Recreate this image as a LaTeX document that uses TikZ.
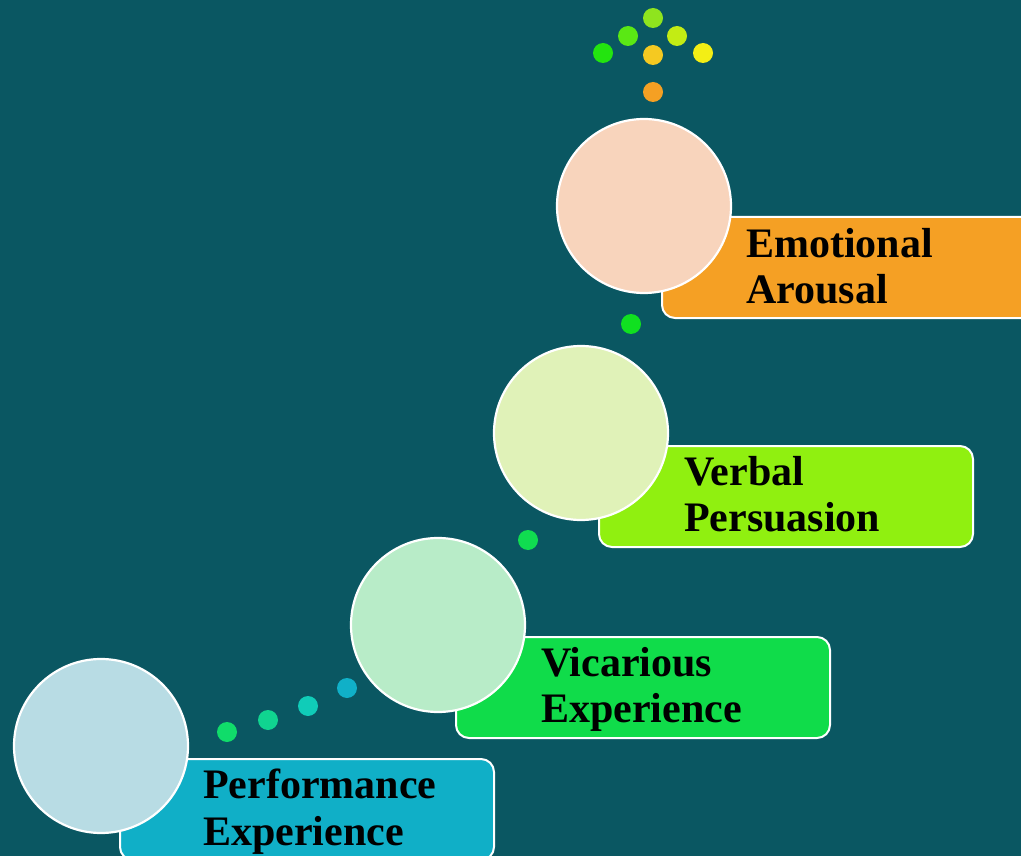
\documentclass[tikz,border=0pt]{standalone}
\usepackage{fontspec}
\setmainfont{Liberation Serif}
\definecolor{bgc}{HTML}{0A5762}
\definecolor{cPerf}{HTML}{B8DCE4}
\definecolor{cVic}{HTML}{B8ECC8}
\definecolor{cVerb}{HTML}{E0F2B8}
\definecolor{cEmo}{HTML}{F8D4BC}
\definecolor{rPerf}{HTML}{10AFC7}
\definecolor{rVic}{HTML}{10DC4A}
\definecolor{rVerb}{HTML}{90F010}
\definecolor{rEmo}{HTML}{F5A024}
\definecolor{d1}{HTML}{8FE41E}
\definecolor{d2}{HTML}{5AE814}
\definecolor{d3}{HTML}{23E40F}
\definecolor{d4}{HTML}{C3EC14}
\definecolor{d5}{HTML}{F3EE15}
\definecolor{d6}{HTML}{F5C921}
\definecolor{d7}{HTML}{F5A023}
\definecolor{d8}{HTML}{10E020}
\definecolor{d9}{HTML}{10DC50}
\definecolor{d10}{HTML}{10DC6A}
\definecolor{d11}{HTML}{10D490}
\definecolor{d12}{HTML}{10CCB8}
\definecolor{d13}{HTML}{10B0C8}
\begin{document}
\begin{tikzpicture}[x=1pt,y=-1pt,
  bigcirc/.style={circle,draw=white,line width=2.2pt,minimum size=174pt,inner sep=0pt},
  labelbox/.style={rectangle,rounded corners=13pt,draw=white,line width=2pt,minimum width=374pt,minimum height=101pt,anchor=north west,inner sep=0pt},
  labeltext/.style={anchor=north west,inner sep=0pt,align=left,font=\bfseries\fontsize{42}{46.5}\selectfont,text=black},
  dot/.style={circle,inner sep=0pt,minimum size=20pt}]
\fill[bgc] (0,0) rectangle (1021,856);
\useasboundingbox (0,0) rectangle (1021,856);
% label boxes
\node[labelbox,fill=rPerf] (bPerf) at (119,758) {};
\node[labelbox,fill=rVic] (bVic) at (455,636) {};
\node[labelbox,fill=rVerb] (bVerb) at (598,445) {};
\node[labelbox,fill=rEmo] (bEmo) at (661,216) {};
% circles
\node[bigcirc,fill=cPerf] (cPerf) at (101,746) {};
\node[bigcirc,fill=cVic] (cVic) at (438,625) {};
\node[bigcirc,fill=cVerb] (cVerb) at (581,433) {};
\node[bigcirc,fill=cEmo] (cEmo) at (644,206) {};
% texts
\node[labeltext] (tPerf) at (203,769) {Performance\\Experience};
\node[labeltext] (tVic) at (541,647) {Vicarious\\Experience};
\node[labeltext] (tVerb) at (684,456) {Verbal\\Persuasion};
\node[labeltext] (tEmo) at (746,228) {Emotional\\Arousal};
% dots
\node[dot,fill=d1] (p1) at (653,18) {};
\node[dot,fill=d2] (p2) at (628,36) {};
\node[dot,fill=d3] (p3) at (603,53) {};
\node[dot,fill=d4] (p4) at (677,36) {};
\node[dot,fill=d5] (p5) at (703,53) {};
\node[dot,fill=d6] (p6) at (653,55) {};
\node[dot,fill=d7] (p7) at (653,92) {};
\node[dot,fill=d8] (p8) at (631,324) {};
\node[dot,fill=d9] (p9) at (528,540) {};
\node[dot,fill=d10] (p10) at (227,732) {};
\node[dot,fill=d11] (p11) at (268,720) {};
\node[dot,fill=d12] (p12) at (308,706) {};
\node[dot,fill=d13] (p13) at (347,688) {};
\end{tikzpicture}
\end{document}
